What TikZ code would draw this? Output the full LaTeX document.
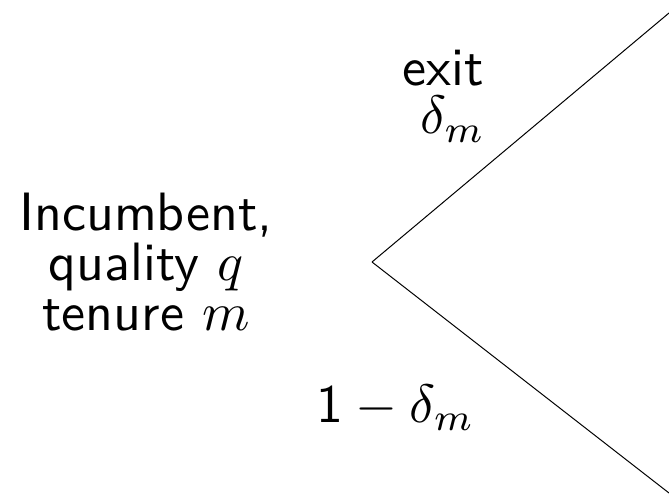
\RequirePackage{fix-cm}
\documentclass[tikz,border=0pt]{standalone}
\renewcommand{\familydefault}{\sfdefault}
\usetikzlibrary{positioning}

\begin{document}
\begin{tikzpicture}[x=1pt,y=1pt,
    lbl/.style={inner sep=0pt,font=\fontsize{10}{9.2}\selectfont,scale=5.4,transform shape},
    branch/.style={line width=1pt,black}]
  \useasboundingbox (0,0) rectangle (669,-500);
  \clip (0,0) rectangle (669,-500);
  % Decision node and player
  \node[lbl,align=center] (inc) at (146,-262) {Incumbent,\\quality $q$\\tenure $m$};
  \coordinate (root) at (372,-262);
  \coordinate (up) at (669,-13);
  \coordinate (down) at (669,-493);
  % Branches
  \draw[branch] (root) -- (up);
  \draw[branch] (root) -- (down);
  % Branch labels
  \node[lbl,anchor=base] (exit) at (443,-86) {exit};
  \node[lbl,anchor=base] (pexit) at (453,-134) {$\delta_m$};
  \node[lbl,anchor=base] (pstay) at (396,-422) {$\mathsf{1}-\delta_m$};
\end{tikzpicture}
\end{document}
